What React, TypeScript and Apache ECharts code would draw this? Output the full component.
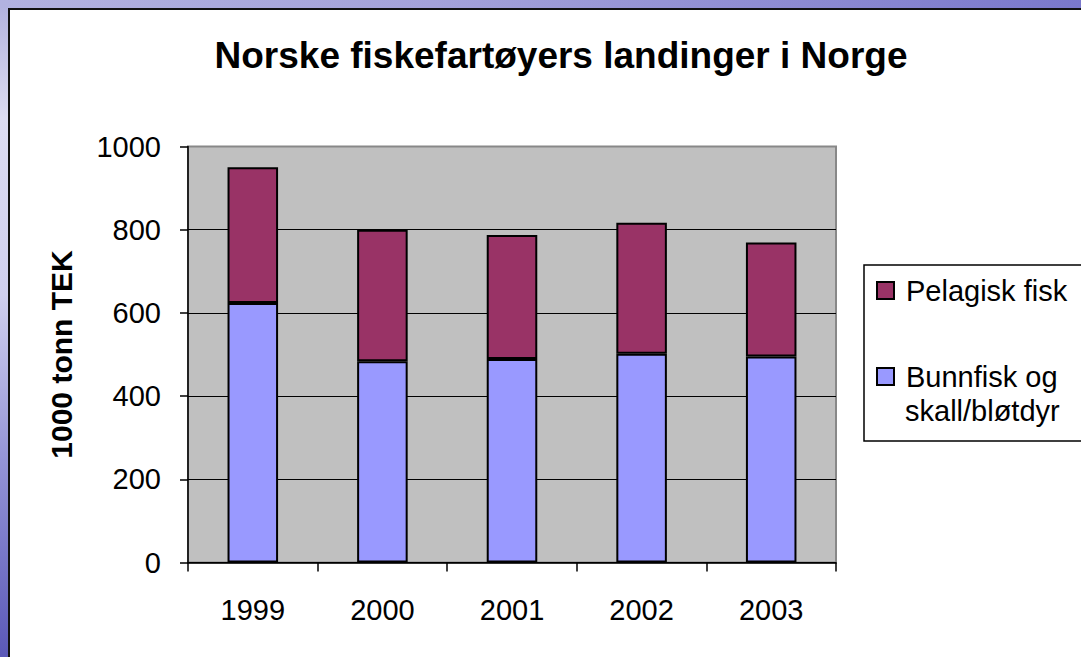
import React, { useEffect, useRef } from 'react';
import * as echarts from 'echarts';

const categories = ['1999', '2000', '2001', '2002', '2003'];
const bunnfisk = [624, 484, 489, 502, 495];
const pelagisk = [326, 316, 298, 315, 274];
const seriesNames = ['Bunnfisk og skall/bløtdyr', 'Pelagisk fisk'];
const legendLines = ['Bunnfisk og', 'skall/bløtdyr'];
const titleText = 'Norske fiskefartøyers landinger i Norge';
const yAxisName = '1000 tonn TEK';

const FONT = "'Liberation Sans', Arial, sans-serif";

export default function App() {
  const ref = useRef<HTMLDivElement>(null);
  useEffect(() => {
    document.body.style.margin = '0';
    if (!ref.current) return;
    const chart = echarts.init(ref.current, null, { renderer: 'svg' });
    chart.setOption({
      animation: false,
      title: {
        text: titleText,
        left: 556,
        top: 32,
        textAlign: 'center',
        textStyle: { fontFamily: FONT, fontSize: 37, fontWeight: 'bold', color: '#000' },
      },
      legend: [
        {
          data: [seriesNames[1]],
          left: 876,
          top: 276,
          padding: 0,
          itemWidth: 17,
          itemHeight: 17,
          icon: 'rect',
          itemStyle: { borderColor: '#000', borderWidth: 2 },
          textStyle: { fontFamily: FONT, fontSize: 29, color: '#000', padding: [0, 0, 0, 7] },
          selectedMode: false,
        },
        {
          data: [seriesNames[0]],
          left: 876,
          top: 362,
          padding: 0,
          itemWidth: 17,
          itemHeight: 17,
          icon: 'rect',
          itemStyle: { borderColor: '#000', borderWidth: 2 },
          formatter: () => legendLines[0],
          textStyle: { fontFamily: FONT, fontSize: 29, color: '#000', padding: [0, 0, 0, 7] },
          selectedMode: false,
        },
      ],
      graphic: [
        {
          type: 'rect',
          shape: { x: 864, y: 265, width: 300, height: 176 },
          style: { fill: 'none', stroke: '#000', lineWidth: 1.5 },
        },
        {
          type: 'text',
          x: 905,
          y: 411,
          style: {
            text: legendLines[1],
            fontFamily: FONT,
            fontSize: 29,
            fill: '#000',
            verticalAlign: 'middle',
            align: 'left',
          },
        },
      ],
      grid: {
        left: 188,
        right: 245,
        top: 146.5,
        bottom: 94.5,
        show: true,
        backgroundColor: '#C0C0C0',
        borderColor: '#888888',
        borderWidth: 2,
      },
      xAxis: {
        type: 'category',
        data: categories,
        axisLine: { lineStyle: { color: '#000', width: 1.5 } },
        axisTick: { show: true, alignWithLabel: false, length: 9, lineStyle: { color: '#000', width: 1.5 } },
        axisLabel: { fontFamily: FONT, fontSize: 29, color: '#000', margin: 33 },
      },
      yAxis: {
        type: 'value',
        min: 0,
        max: 1000,
        interval: 200,
        name: yAxisName,
        nameLocation: 'middle',
        nameGap: 112,
        nameTextStyle: { fontFamily: FONT, fontSize: 30, fontWeight: 'bold', color: '#000' },
        axisLine: { show: true, lineStyle: { color: '#000', width: 1.5 } },
        axisTick: { show: true, length: 8, lineStyle: { color: '#000', width: 1.5 } },
        axisLabel: { fontFamily: FONT, fontSize: 29, color: '#000', margin: 27, formatter: (v: number) => String(v) },
        splitLine: { show: true, showMaxLine: false, lineStyle: { color: '#000', width: 1.2 } },
      },
      series: [
        {
          name: seriesNames[0],
          type: 'bar',
          stack: 'total',
          data: bunnfisk,
          barWidth: '39%',
          itemStyle: { color: '#9999FF', borderColor: '#000', borderWidth: 2 },
        },
        {
          name: seriesNames[1],
          type: 'bar',
          stack: 'total',
          data: pelagisk,
          barWidth: '39%',
          itemStyle: { color: '#993366', borderColor: '#000', borderWidth: 2 },
        },
      ],
    });
    return () => chart.dispose();
  }, []);

  return (
    <div style={{ position: 'relative', width: 1081, height: 657, background: '#fff', overflow: 'hidden' }}>
      <div
        style={{
          position: 'absolute', left: 0, top: 0, width: 8, height: 657,
          background: 'linear-gradient(to bottom, #b0b0de 0%, #dcdcf2 18%, #cfcfee 45%, #9494d6 70%, #5a58b8 100%)',
        }}
      />
      <div
        style={{
          position: 'absolute', left: 0, top: 0, width: 1081, height: 8,
          background: 'linear-gradient(to right, #b2b2e0 0%, #a4a2da 40%, #7a78cc 100%)',
        }}
      />
      <div style={{ position: 'absolute', left: 8, top: 8, width: 1.5, height: 649, background: '#111' }} />
      <div style={{ position: 'absolute', left: 8, top: 8, width: 1073, height: 1.5, background: '#111' }} />
      <div ref={ref} style={{ position: 'absolute', left: 0, top: 0, width: 1081, height: 657 }} />
    </div>
  );
}
